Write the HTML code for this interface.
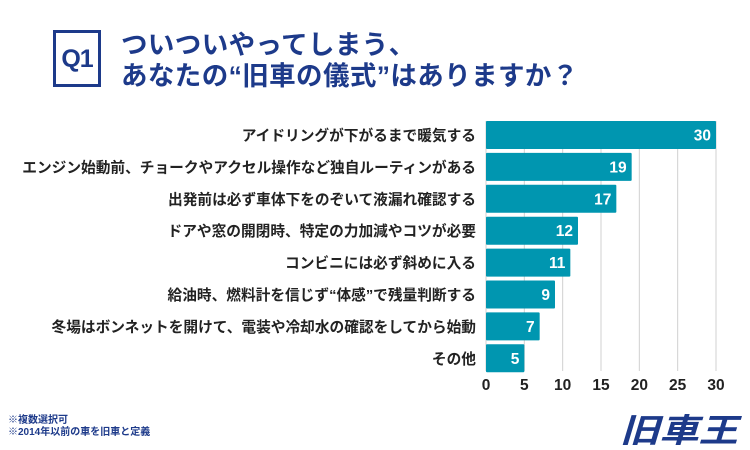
<!DOCTYPE html>
<html><head><meta charset="utf-8"><style>
body{margin:0;width:750px;height:450px;background:#fff;overflow:hidden;font-family:"Liberation Sans","Noto Sans CJK JP",sans-serif;position:relative}
.q{position:absolute;left:53px;top:30px;width:48px;height:57px;border:3px solid #1d3a8a;box-sizing:border-box;color:#1d3a8a;font-weight:bold;font-size:25px;text-align:center;line-height:52px;letter-spacing:-1px}
.t{position:absolute;left:121px;top:30px;color:#1d3a8a;font-weight:bold;font-size:26.5px;line-height:31px;letter-spacing:0.4px;white-space:nowrap}
.note{position:absolute;left:8px;top:415px;font-size:10px;font-weight:bold;color:#1d3a8a;line-height:12px}
</style></head><body>
<div class="q">Q1</div>
<div class="t">ついついやってしまう、<br>あなたの“旧車の儀式”はありますか？</div>
<svg id="c" width="750" height="450" style="position:absolute;left:0;top:0"></svg>
<div class="note">※複数選択可<br>※2014年以前の車を旧車と定義</div>
<svg style="position:absolute;left:618px;top:410px" width="130" height="38">
<text x="2" y="32" font-size="33" font-weight="bold" font-style="italic" fill="#1d3a8a" font-family="Liberation Sans,Noto Sans CJK JP,sans-serif" textLength="118" lengthAdjust="spacingAndGlyphs">旧車王</text>
</svg>
<script>
const categories=["アイドリングが下がるまで暖気する","エンジン始動前、チョークやアクセル操作など独自ルーティンがある","出発前は必ず車体下をのぞいて液漏れ確認する","ドアや窓の開閉時、特定の力加減やコツが必要","コンビニには必ず斜めに入る","給油時、燃料計を信じず“体感”で残量判断する","冬場はボンネットを開けて、電装や冷却水の確認をしてから始動","その他"];
const values=[30,19,17,12,11,9,7,5];
const ticks=[0,5,10,15,20,25,30];
const svg=document.getElementById('c');const NS='http://www.w3.org/2000/svg';
const x0=486,x1=716,xmax=30,top0=121,step=31.9,bh=28;
const X=v=>x0+(x1-x0)*v/xmax;
function mk(t,a,txt){const e=document.createElementNS(NS,t);for(const k in a)e.setAttribute(k,a[k]);if(txt!=null)e.textContent=txt;svg.appendChild(e);return e;}
ticks.forEach(t=>{
const l=mk('line',{x1:X(t),x2:X(t),y1:top0,y2:371,stroke:'#d0d0d0','stroke-width':1});


const tx=mk('text',{x:X(t),y:390,'text-anchor':'middle','font-size':15.5,'font-weight':'bold',fill:'#222'},t);


});
categories.forEach((c,i)=>{
const y=top0+i*step;
const r=mk('rect',{x:x0,y:y,width:X(values[i])-x0,height:bh,fill:'#0096b0',rx:1});


const v=mk('text',{x:X(values[i])-5,y:y+bh/2+5.5,'text-anchor':'end','font-size':15.5,'font-weight':'bold',fill:'#fff'},values[i]);


const lb=mk('text',{x:476,y:y+bh/2+5.5,'text-anchor':'end','font-size':14.7,'font-weight':'bold',fill:'#222'},c);


});
</script>
</body></html>
